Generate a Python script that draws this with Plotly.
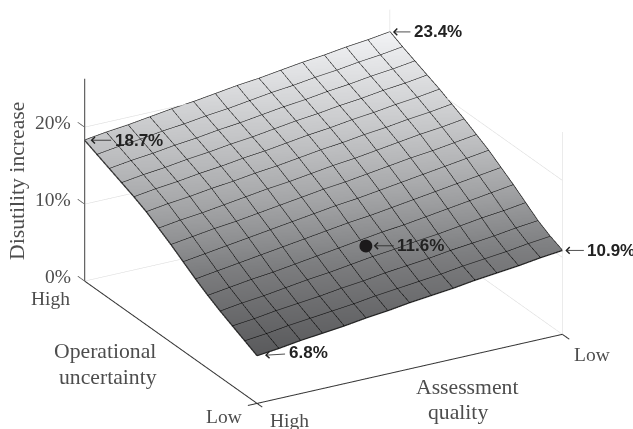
import plotly.graph_objects as go

# Assessment quality: 0 = High, 1 = Low.  Operational uncertainty: 0 = Low, 1 = High.
quality = [0, 1/14, 2/14, 3/14, 4/14, 5/14, 6/14, 7/14, 8/14, 9/14, 10/14, 11/14, 12/14, 13/14, 1]
uncertainty = [0, 1/14, 2/14, 3/14, 4/14, 5/14, 6/14, 7/14, 8/14, 9/14, 10/14, 11/14, 12/14, 13/14, 1]
disutility = [
    [6.2, 6.5, 6.9, 7.2, 7.5, 7.9, 8.2, 8.6, 8.9, 9.2, 9.6, 9.9, 10.2, 10.6, 10.9],
    [7.0, 7.3, 7.7, 8.0, 8.3, 8.6, 9.0, 9.3, 9.6, 9.9, 10.3, 10.6, 10.9, 11.3, 11.6],
    [7.8, 8.1, 8.5, 8.8, 9.1, 9.5, 9.8, 10.2, 10.5, 10.8, 11.2, 11.5, 11.8, 12.2, 12.5],
    [8.6, 9.0, 9.3, 9.7, 10.1, 10.4, 10.8, 11.2, 11.5, 11.9, 12.2, 12.6, 13.0, 13.3, 13.7],
    [9.5, 9.9, 10.3, 10.6, 11.0, 11.4, 11.8, 12.2, 12.6, 12.9, 13.3, 13.7, 14.1, 14.5, 14.9],
    [10.5, 10.9, 11.3, 11.7, 12.1, 12.5, 12.9, 13.3, 13.6, 14.0, 14.4, 14.8, 15.2, 15.6, 16.0],
    [11.6, 12.0, 12.4, 12.8, 13.2, 13.6, 14.0, 14.4, 14.7, 15.1, 15.5, 15.9, 16.3, 16.7, 17.1],
    [12.7, 13.1, 13.5, 13.8, 14.2, 14.6, 15.0, 15.4, 15.7, 16.1, 16.5, 16.9, 17.2, 17.6, 18.0],
    [13.7, 14.1, 14.4, 14.8, 15.2, 15.6, 15.9, 16.3, 16.7, 17.0, 17.4, 17.8, 18.2, 18.5, 18.9],
    [14.7, 15.1, 15.4, 15.8, 16.1, 16.5, 16.8, 17.2, 17.6, 17.9, 18.3, 18.6, 19.0, 19.3, 19.7],
    [15.5, 15.9, 16.2, 16.6, 16.9, 17.3, 17.6, 18.0, 18.4, 18.7, 19.1, 19.4, 19.8, 20.1, 20.5],
    [16.2, 16.6, 16.9, 17.3, 17.6, 18.0, 18.3, 18.7, 19.1, 19.4, 19.8, 20.1, 20.5, 20.8, 21.2],
    [16.9, 17.3, 17.6, 18.0, 18.3, 18.7, 19.0, 19.4, 19.8, 20.1, 20.5, 20.8, 21.2, 21.5, 21.9],
    [17.6, 18.0, 18.3, 18.7, 19.0, 19.4, 19.7, 20.1, 20.5, 20.8, 21.2, 21.5, 21.9, 22.2, 22.6],
    [18.3, 18.7, 19.0, 19.4, 19.8, 20.1, 20.5, 20.9, 21.2, 21.6, 22.0, 22.3, 22.7, 23.0, 23.4],
]
z_ticks = [0, 10, 20]
z_tick_labels = ["0%", "10%", "20%"]
z_top = 26.3
callout_labels = ["6.8%", "10.9%", "18.7%", "23.4%"]
dot_quality, dot_uncertainty, dot_value, dot_label = 0.47, 0.202, 13.05, "11.6%"

SERIF = "Liberation Serif"
SANS = "Liberation Sans"
GREY_TEXT = "#4d4d4d"


def seg(a, b, color, width):
    return go.Scatter3d(x=[a[0], b[0]], y=[a[1], b[1]], z=[a[2], b[2]], mode="lines",
                        line=dict(color=color, width=width), hoverinfo="skip", showlegend=False)


def rim(xs, ys, zs):
    return go.Scatter3d(x=xs, y=ys, z=zs, mode="lines", line=dict(color="#222222", width=2.5),
                        hoverinfo="skip", showlegend=False)


fig = go.Figure()
fig.add_trace(go.Surface(
    x=quality, y=uncertainty, z=disutility, cmin=6.2, cmax=23.4, showscale=False,
    colorscale=[[0, "#5a5a5c"], [0.27, "#7c7d7f"], [0.5, "#a4a5a7"], [1, "#f2f3f5"]],
    lighting=dict(ambient=1, diffuse=0, specular=0, roughness=1, fresnel=0),
    contours=dict(
        x=dict(show=True, start=0, end=1, size=1/14, color="#000000", width=3),
        y=dict(show=True, start=0, end=1, size=1/14, color="#000000", width=3),
        z=dict(show=False),
    ),
    hoverinfo="skip",
))
fig.add_trace(rim(quality, [0]*15, disutility[0]))
fig.add_trace(rim(quality, [1]*15, disutility[-1]))
fig.add_trace(rim([0]*15, uncertainty, [r[0] for r in disutility]))
fig.add_trace(rim([1]*15, uncertainty, [r[-1] for r in disutility]))

# frame
for t in z_ticks:
    fig.add_trace(seg((0, 1, t), (1, 1, t), "#d8d8d8", 1))
    fig.add_trace(seg((1, 0, t), (1, 1, t), "#d8d8d8", 1))
    fig.add_trace(seg((0, 1, t), (0, 1.04, t), "#555555", 1.5))
fig.add_trace(seg((1, 1, 0), (1, 1, z_top), "#d8d8d8", 1))
fig.add_trace(seg((1, 0, 0), (1, 0, z_top), "#d8d8d8", 1))
fig.add_trace(seg((0, 1, 0), (0, 1, z_top), "#666666", 2.5))
fig.add_trace(seg((0, 1.0, 0), (0, -0.03, 0), "#333333", 2))
fig.add_trace(seg((-0.03, 0, 0), (1, 0, 0), "#333333", 2))
fig.add_trace(seg((1, 0, 0), (1, -0.04, 0), "#333333", 2))

# dot
fig.add_trace(go.Scatter3d(x=[dot_quality], y=[dot_uncertainty], z=[dot_value], mode="markers",
                           marker=dict(size=7.5, color="#1c1a1b"), hoverinfo="skip", showlegend=False))


def callout(x, y, z, text, ax, ay=0, standoff=2):
    return dict(x=x, y=y, z=z, text=f"<b>{text}</b>", showarrow=True, arrowhead=4, arrowsize=1.6,
                arrowwidth=0.8, arrowcolor="#222222", ax=ax, ay=ay, standoff=standoff, borderpad=3,
                font=dict(family=SANS, size=17, color="#222222"))


scene_notes = [
    callout(0, 0, disutility[0][0], callout_labels[0], 51, -3, 8),
    callout(1, 0, disutility[0][-1], callout_labels[1], 49, 0, 3),
    callout(0, 1, disutility[-1][0], callout_labels[2], 54, 0, 6),
    callout(1, 1, disutility[-1][-1], callout_labels[3], 48, 0, 3),
    callout(dot_quality, dot_uncertainty, dot_value, dot_label, 55, 0, 8),
]
for t, lab in zip(z_ticks, z_tick_labels):
    scene_notes.append(dict(x=0, y=1, z=t, text=lab, showarrow=False, xanchor="right", xshift=-12, yshift=5,
                            font=dict(family=SERIF, size=19.5, color=GREY_TEXT)))


def note(px, py, text, size=19.5, angle=0):
    return dict(x=px/633, y=1-py/429, xref="paper", yref="paper", text=text, showarrow=False,
                xanchor="center", yanchor="middle", textangle=angle,
                font=dict(family=SERIF, size=size, color=GREY_TEXT))


zoom = 1.698
fig.update_layout(
    width=633, height=429, margin=dict(l=0, r=0, t=0, b=0),
    paper_bgcolor="white", showlegend=False,
    scene=dict(
        domain=dict(x=[14/633, 1], y=[16/429, 1]),
        xaxis=dict(visible=False, range=[-0.05, 1.05]),
        yaxis=dict(visible=False, range=[-0.05, 1.05]),
        zaxis=dict(visible=False, range=[0, z_top]),
        aspectmode="manual", aspectratio=dict(x=1.1*zoom, y=1.1*zoom, z=0.63*zoom),
        camera=dict(projection=dict(type="orthographic"), up=dict(x=0, y=0, z=1),
                    center=dict(x=0, y=0, z=0),
                    eye=dict(x=-0.4505*2, y=-0.7977*2, z=0.4006*2)),
        annotations=scene_notes,
    ),
    annotations=[
        note(17, 181, "Disutility increase", 21.7, -90),
        note(50, 298, "High"),
        note(224, 416, "Low"),
        note(289, 420, "High"),
        note(592, 354, "Low"),
        note(105, 351, "Operational", 21.7),
        note(108, 377, "uncertainty", 21.7),
        note(467, 387, "Assessment", 21.7),
        note(458, 412, "quality", 21.7),
    ],
)
fig.write_html("out.html", config=dict(displayModeBar=False),
               post_script="document.body.style.margin='0';")
